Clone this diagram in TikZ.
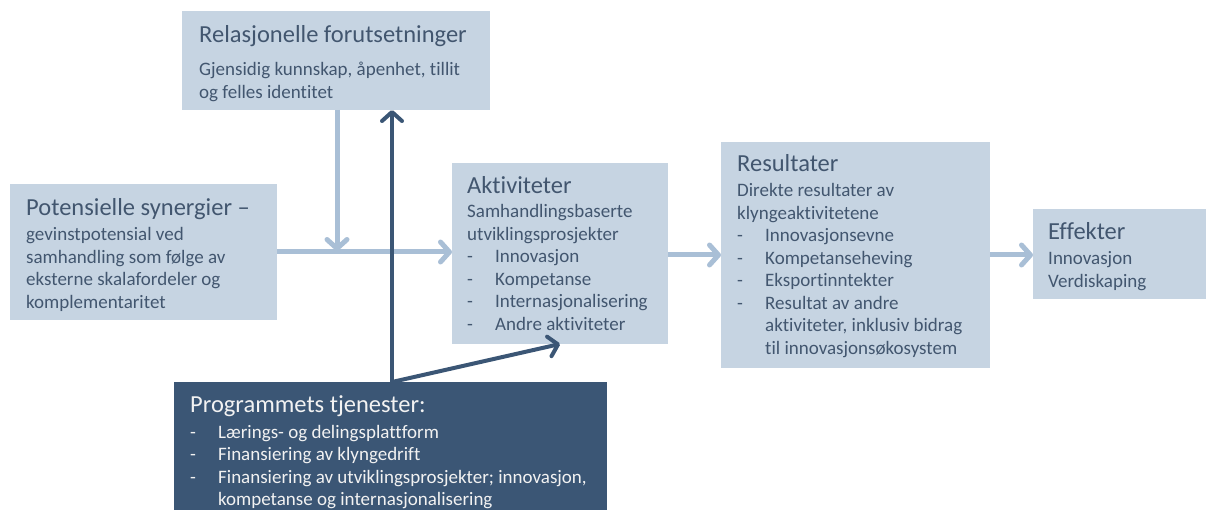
\documentclass[tikz,border=0pt]{standalone}
\usepackage{fontspec}
\setmainfont{Carlito}[Ligatures=NoCommon]
\usetikzlibrary{arrows.meta}
\definecolor{boxfill}{HTML}{C6D4E2}
\definecolor{boxtext}{HTML}{42566F}
\definecolor{darkfill}{HTML}{3B5675}
\definecolor{lightarrow}{HTML}{A9BFD6}
\newcommand{\bodyfont}{\fontsize{19}{22.5}\selectfont}
\newcommand{\headfont}{\fontsize{24.5}{28}\selectfont}
\newcommand{\itemdash}[1]{\makebox[28pt][l]{-}#1}
\newcommand{\itemcont}[1]{\hspace*{28pt}#1}

\begin{document}
\begin{tikzpicture}
[x=1pt,y=-1pt,
 lightbox/.style={rectangle,fill=boxfill,inner sep=0pt,outer sep=0pt,anchor=north west},
 darkbox/.style={rectangle,fill=darkfill,inner sep=0pt,outer sep=0pt,anchor=north west},
 lighttext/.style={anchor=base west,inner sep=0pt,text=boxtext,font=\bodyfont},
 darktext/.style={anchor=base west,inner sep=0pt,text=white!95!black,font=\bodyfont},
 light arrow/.style={draw=lightarrow,line width=5pt,-{Straight Barb[length=9pt,width=20pt,round]}},
 dark arrow/.style={draw=darkfill,line width=4pt,-{Straight Barb[length=9pt,width=20pt,round]}}]
\useasboundingbox (0,0) rectangle (1206,510);
% boxes
\node[lightbox,minimum width=308pt,minimum height=99pt]  (rel)  at (182,11)  {};
\node[lightbox,minimum width=267pt,minimum height=136pt] (syn)  at (10,184)  {};
\node[lightbox,minimum width=216pt,minimum height=181pt] (akt)  at (452,163) {};
\node[lightbox,minimum width=269pt,minimum height=226pt] (res)  at (721,142) {};
\node[lightbox,minimum width=173pt,minimum height=90pt]  (eff)  at (1033,209) {};
\node[darkbox,minimum width=433pt,minimum height=128pt]  (prog) at (174,382) {};
% texts
\node[lighttext] (rel-text) at (199,43) {\begin{tabular}[t]{@{}l@{}}
  {\headfont Relasjonelle forutsetninger}\\[10.5pt]
  Gjensidig kunnskap, åpenhet, tillit\\
  og felles identitet\end{tabular}};
\node[lighttext] (syn-text) at (26,216) {\begin{tabular}[t]{@{}l@{}}
  {\headfont Potensielle synergier –}\\[2.5pt]
  gevinstpotensial ved\\
  samhandling som følge av\\
  eksterne skalafordeler og\\
  komplementaritet\end{tabular}};
\node[lighttext] (akt-text) at (467,194) {\begin{tabular}[t]{@{}l@{}}
  {\headfont Aktiviteter}\\[1.5pt]
  Samhandlingsbaserte\\
  utviklingsprosjekter\\
  \itemdash{Innovasjon}\\
  \itemdash{Kompetanse}\\
  \itemdash{Internasjonalisering}\\
  \itemdash{Andre aktiviteter}\end{tabular}};
\node[lighttext] (res-text) at (737,172) {\begin{tabular}[t]{@{}l@{}}
  {\headfont Resultater}\\[2.5pt]
  Direkte resultater av\\
  klyngeaktivitetene\\
  \itemdash{Innovasjonsevne}\\
  \itemdash{Kompetanseheving}\\
  \itemdash{Eksportinntekter}\\
  \itemdash{Resultat av andre}\\
  \itemcont{aktiviteter, inklusiv bidrag}\\
  \itemcont{til innovasjonsøkosystem}\end{tabular}};
\node[lighttext] (eff-text) at (1048,240) {\begin{tabular}[t]{@{}l@{}}
  {\headfont Effekter}\\[2.5pt]
  Innovasjon\\
  Verdiskaping\end{tabular}};
\node[darktext] (prog-text) at (190,412) {\begin{tabular}[t]{@{}l@{}}
  {\headfont Programmets tjenester:}\\[3.5pt]
  \itemdash{Lærings- og delingsplattform}\\
  \itemdash{Finansiering av klyngedrift}\\
  \itemdash{Finansiering av utviklingsprosjekter; innovasjon,}\\
  \itemcont{kompetanse og internasjonalisering}\end{tabular}};
% connectors
\coordinate (merge) at (337,251);
\coordinate (hub)   at (392,382);
\draw[light arrow] (syn.east) -- (syn.east -| akt.west);
\draw[light arrow] (rel.south -| merge) -- (merge);
\draw[light arrow] (res.west -| akt.east) -- (res.west);
\draw[light arrow] (res.east) -- (res.east -| eff.west);
\draw[dark arrow] (hub) -- (hub |- rel.south);
\draw[dark arrow] (hub) -- (akt.south);
\end{tikzpicture}
\end{document}
